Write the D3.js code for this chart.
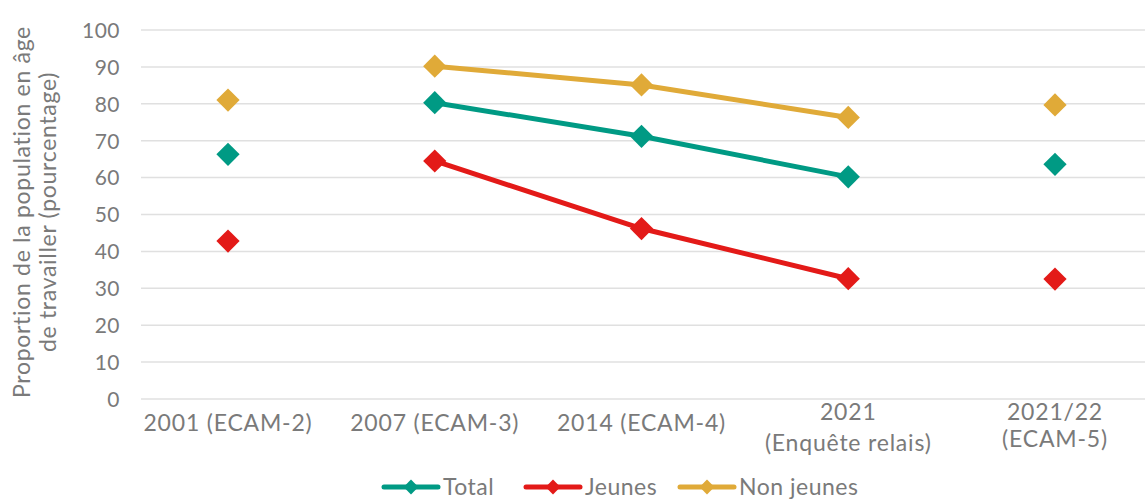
<!DOCTYPE html>
<html>
<head>
<meta charset="utf-8">
<script src="https://cdn.jsdelivr.net/npm/d3@7"></script>
<style>
  body { margin: 0; background: #fff; }
  text { font-family: Lato, "Open Sans", sans-serif; fill: #7a7a7a; }
</style>
</head>
<body>
<svg id="chart" width="1145" height="500"></svg>
<script>
// categories (two-line x labels)
var categories = ['2001 (ECAM-2)', '2007 (ECAM-3)', '2014 (ECAM-4)', '2021 (Enquête relais)', '2021/22 (ECAM-5)'];
var catLines = [['2001 (ECAM-2)'], ['2007 (ECAM-3)'], ['2014 (ECAM-4)'], ['2021', '(Enquête relais)'], ['2021/22', '(ECAM-5)']];
// which categories are joined by lines
var connected = [false, true, true, true, false];

var total = [66.3, 80.3, 71.2, 60.2, 63.6];
var jeunes = [42.8, 64.5, 46.2, 32.6, 32.5];
var nonJeunes = [81.0, 90.2, 85.1, 76.3, 79.7];

var yTicks = [0, 10, 20, 30, 40, 50, 60, 70, 80, 90, 100];

var series = [
	{ name: 'Total', values: total, color: '#009a84' },
	{ name: 'Jeunes', values: jeunes, color: '#e31a18' },
	{ name: 'Non jeunes', values: nonJeunes, color: '#e0aa38' }
];

var svg = d3.select('#chart');
var g = svg.append('g');

var gridLeft = 141, gridRight = 1145;

var x = d3.scalePoint()
	.domain(categories)
	.range([228, 1055]);

var y = d3.scaleLinear()
	.domain([0, 100])
	.range([399, 30]);

// gridlines
g.selectAll('line.grid')
	.data(yTicks)
	.enter().append('line')
	.attr('class', 'grid')
	.attr('x1', gridLeft)
	.attr('x2', gridRight)
	.attr('y1', function(d) { return y(d); })
	.attr('y2', function(d) { return y(d); })
	.attr('stroke', '#e0e0e0')
	.attr('stroke-width', 1.5);

// y axis labels
var yAxis = d3.axisLeft(y).tickValues(yTicks).tickSize(0).tickPadding(0);
var ya = g.append('g')
	.attr('transform', 'translate(120,0)')
	.call(yAxis);
ya.select('.domain').remove();
ya.selectAll('text')
	.style('font-size', '21px')
	.style('letter-spacing', '0.5px')
	.style('fill', '#7a7a7a')
	.style('font-family', 'Lato, sans-serif')
	.attr('dy', '0.35em');

// y axis title
var yt = g.append('text')
	.attr('transform', 'translate(30,' + 212 + ') rotate(-90)')
	.attr('text-anchor', 'middle')
	.style('font-size', '23px')
	.style('letter-spacing', '0.7px');
yt.append('tspan').attr('x', 0).attr('dy', 0).text('Proportion de la population en âge');
yt.append('tspan').attr('x', 0).attr('dy', '1.13em').text('de travailler (pourcentage)');

// x axis labels
catLines.forEach(function(lines, i) {
	var t = g.append('text')
		.attr('x', x(categories[i]))
		.attr('y', 431)
		.attr('text-anchor', 'middle')
		.style('font-size', '23px')
		.style('letter-spacing', '0.8px');
	lines.forEach(function(l, j) {
		t.append('tspan')
			.attr('x', x(categories[i]))
			.attr('dy', j === 0 ? (lines.length > 1 ? (i === 4 ? '-0.5em' : '-0.5em') : 0) : (i === 4 ? '1.2em' : '1.35em'))
			.text(l);
	});
});

var diamond = d3.symbol().type(d3.symbolSquare).size(270);

// lines + markers
series.forEach(function(s) {
	var pts = s.values.map(function(v, i) { return { c: categories[i], v: v, on: connected[i] }; });

	var line = d3.line()
		.defined(function(d) { return d.on; })
		.x(function(d) { return x(d.c); })
		.y(function(d) { return y(d.v); });

	g.append('path')
		.datum(pts)
		.attr('d', line)
		.attr('fill', 'none')
		.attr('stroke', s.color)
		.attr('stroke-width', 5)
		.attr('stroke-linejoin', 'round');

	g.selectAll(null)
		.data(pts)
		.enter().append('path')
		.attr('d', diamond)
		.attr('transform', function(d) { return 'translate(' + x(d.c) + ',' + y(d.v) + ') rotate(45)'; })
		.attr('fill', s.color);
});

// legend
var legendX = [382, 524, 678];
var legY = 487;
var smallDiamond = d3.symbol().type(d3.symbolSquare).size(110);
series.forEach(function(s, i) {
	var lg = g.append('g').attr('transform', 'translate(' + legendX[i] + ',' + legY + ')');
	lg.append('line')
		.attr('x1', 2).attr('x2', 56)
		.attr('y1', 0).attr('y2', 0)
		.attr('stroke', s.color)
		.attr('stroke-width', 5)
		.attr('stroke-linecap', 'round');
	lg.append('path')
		.attr('d', smallDiamond)
		.attr('transform', 'translate(29,0) rotate(45)')
		.attr('fill', s.color);
	lg.append('text')
		.attr('x', 61)
		.attr('y', 0)
		.attr('dy', '0.35em')
		.style('font-size', '23px')
		.style('letter-spacing', '0.5px')
		.text(s.name);
});
</script>
</body>
</html>
